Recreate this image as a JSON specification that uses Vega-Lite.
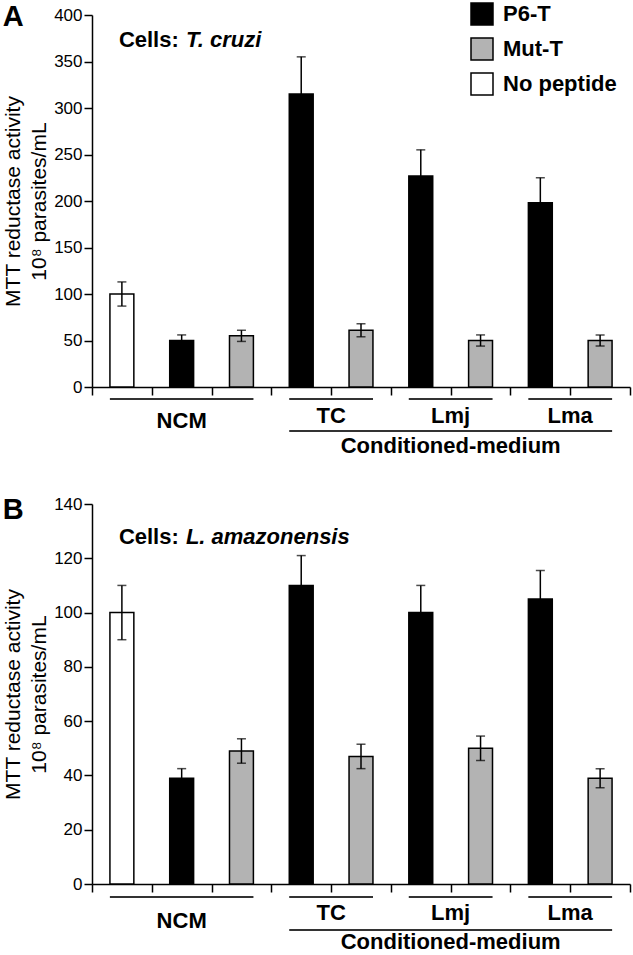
{
  "$schema": "https://vega.github.io/schema/vega-lite/v6.json",
  "padding": {"left": 2, "top": 2, "right": 1, "bottom": 0},
  "background": "white",
  "spacing": 38,
  "config": {
    "view": {"stroke": null},
    "font": "Liberation Sans",
    "axis": {"grid": false, "domainColor": "black", "domainWidth": 1.5, "tickColor": "black", "tickWidth": 1.5, "tickSize": 8, "labelColor": "black", "labelFont": "Liberation Sans", "labelFontSize": 17, "labelPadding": 2, "titleColor": "black", "titleFont": "Liberation Sans", "titleFontSize": 21, "titleFontWeight": "normal"},
    "title": {"font": "Liberation Sans", "fontSize": 29, "fontWeight": "bold", "color": "black", "anchor": "start", "frame": "bounds", "offset": -30}
  },
  "resolve": {"legend": {"fill": "independent"}},
  "datasets": {
    "a": [
      {"slot": "NCM|No peptide", "medium": "NCM", "peptide": "No peptide", "value": 100, "low": 87, "high": 113},
      {"slot": "NCM|P6-T", "medium": "NCM", "peptide": "P6-T", "value": 50, "low": 44, "high": 56},
      {"slot": "NCM|Mut-T", "medium": "NCM", "peptide": "Mut-T", "value": 55, "low": 49, "high": 61},
      {"slot": "TC|P6-T", "medium": "TC", "peptide": "P6-T", "value": 315, "low": 275, "high": 355},
      {"slot": "TC|Mut-T", "medium": "TC", "peptide": "Mut-T", "value": 61, "low": 54, "high": 68},
      {"slot": "Lmj|P6-T", "medium": "Lmj", "peptide": "P6-T", "value": 227, "low": 199, "high": 255},
      {"slot": "Lmj|Mut-T", "medium": "Lmj", "peptide": "Mut-T", "value": 50, "low": 44, "high": 56},
      {"slot": "Lma|P6-T", "medium": "Lma", "peptide": "P6-T", "value": 198, "low": 171, "high": 225},
      {"slot": "Lma|Mut-T", "medium": "Lma", "peptide": "Mut-T", "value": 50, "low": 44, "high": 56}
    ],
    "b": [
      {"slot": "NCM|No peptide", "medium": "NCM", "peptide": "No peptide", "value": 100, "low": 90, "high": 110},
      {"slot": "NCM|P6-T", "medium": "NCM", "peptide": "P6-T", "value": 39, "low": 35.5, "high": 42.5},
      {"slot": "NCM|Mut-T", "medium": "NCM", "peptide": "Mut-T", "value": 49, "low": 44.5, "high": 53.5},
      {"slot": "TC|P6-T", "medium": "TC", "peptide": "P6-T", "value": 110, "low": 99, "high": 121},
      {"slot": "TC|Mut-T", "medium": "TC", "peptide": "Mut-T", "value": 47, "low": 42.5, "high": 51.5},
      {"slot": "Lmj|P6-T", "medium": "Lmj", "peptide": "P6-T", "value": 100, "low": 90, "high": 110},
      {"slot": "Lmj|Mut-T", "medium": "Lmj", "peptide": "Mut-T", "value": 50, "low": 45.5, "high": 54.5},
      {"slot": "Lma|P6-T", "medium": "Lma", "peptide": "P6-T", "value": 105, "low": 94.5, "high": 115.5},
      {"slot": "Lma|Mut-T", "medium": "Lma", "peptide": "Mut-T", "value": 39, "low": 35.5, "high": 42.5}
    ],
    "cellsA": [{"cells": "Cells:", "species": "T. cruzi", "slot": "NCM|No peptide", "y": 373}],
    "cellsB": [{"cells": "Cells:", "species": "L. amazonensis", "slot": "NCM|No peptide", "y": 128}],
    "groups": [
      {"label": "NCM", "level": 1, "first": "NCM|No peptide", "last": "NCM|Mut-T", "anchor": "NCM|P6-T"},
      {"label": "TC", "level": 1, "first": "TC|P6-T", "last": "TC|Mut-T", "anchor": "TC|P6-T"},
      {"label": "Lmj", "level": 1, "first": "Lmj|P6-T", "last": "Lmj|Mut-T", "anchor": "Lmj|P6-T"},
      {"label": "Lma", "level": 1, "first": "Lma|P6-T", "last": "Lma|Mut-T", "anchor": "Lma|P6-T"},
      {"label": "Conditioned-medium", "level": 2, "first": "TC|P6-T", "last": "Lma|Mut-T", "anchor": "Lmj|P6-T"}
    ]
  },
  "vconcat": [
    {
      "width": 538,
      "height": 372,
      "title": {"text": "A"},
      "layer": [
        {
          "data": {"name": "a"},
          "mark": {"type": "bar", "width": {"band": 0.4}, "stroke": "black", "strokeWidth": 1.5},
          "encoding": {
            "x": {"field": "slot", "type": "nominal", "scale": {"domain": ["NCM|No peptide", "NCM|P6-T", "NCM|Mut-T", "TC|P6-T", "TC|Mut-T", "Lmj|P6-T", "Lmj|Mut-T", "Lma|P6-T", "Lma|Mut-T"], "paddingInner": 0, "paddingOuter": 0}, "axis": {"title": null, "labels": false, "tickBand": "extent"}},
            "y": {"field": "value", "type": "quantitative", "scale": {"domain": [0, 400], "nice": false}, "axis": {"values": [0, 50, 100, 150, 200, 250, 300, 350, 400], "title": ["MTT reductase activity", "10⁸ parasites/mL"], "titleLineHeight": 26, "titlePadding": 4}},
            "fill": {"field": "peptide", "type": "nominal", "scale": {"domain": ["P6-T", "Mut-T", "No peptide"], "range": ["#000000", "#b3b3b3", "#ffffff"]}, "legend": {"orient": "none", "legendX": 378, "legendY": -13, "title": null, "symbolType": "square", "symbolSize": 484, "symbolStrokeColor": "black", "symbolStrokeWidth": 1.5, "symbolOpacity": 1, "labelFont": "Liberation Sans", "labelFontSize": 22, "labelFontWeight": "bold", "labelColor": "black", "labelOffset": 9, "rowPadding": 7, "padding": 0}}
          }
        },
        {
          "data": {"name": "a"},
          "mark": {"type": "rule", "color": "black", "strokeWidth": 1.5},
          "encoding": {"x": {"field": "slot", "type": "nominal"}, "y": {"field": "low", "type": "quantitative"}, "y2": {"field": "high"}}
        },
        {
          "data": {"name": "a"},
          "mark": {"type": "tick", "color": "black", "size": 9, "thickness": 1.5},
          "encoding": {"x": {"field": "slot", "type": "nominal"}, "y": {"field": "low", "type": "quantitative"}}
        },
        {
          "data": {"name": "a"},
          "mark": {"type": "tick", "color": "black", "size": 9, "thickness": 1.5},
          "encoding": {"x": {"field": "slot", "type": "nominal"}, "y": {"field": "high", "type": "quantitative"}}
        },
        {
          "data": {"name": "cellsA"},
          "mark": {"type": "text", "font": "Liberation Sans", "fontSize": 22, "fontWeight": "bold", "align": "left", "baseline": "middle", "dx": -3, "color": "black"},
          "encoding": {"x": {"field": "slot", "type": "nominal"}, "y": {"field": "y", "type": "quantitative"}, "text": {"field": "cells"}}
        },
        {
          "data": {"name": "cellsA"},
          "mark": {"type": "text", "font": "Liberation Sans", "fontSize": 22, "fontWeight": "bold", "fontStyle": "italic", "align": "left", "baseline": "middle", "dx": 64, "color": "black"},
          "encoding": {"x": {"field": "slot", "type": "nominal"}, "y": {"field": "y", "type": "quantitative"}, "text": {"field": "species"}}
        },
        {
          "data": {"name": "groups"},
          "transform": [{"filter": "datum.level == 1"}],
          "mark": {"type": "rule", "color": "#333333", "strokeWidth": 2, "xOffset": -12, "x2Offset": 12, "yOffset": 12},
          "encoding": {"x": {"field": "first", "type": "nominal"}, "x2": {"field": "last"}, "y": {"datum": 0}}
        },
        {
          "data": {"name": "groups"},
          "transform": [{"filter": "datum.level == 2"}],
          "mark": {"type": "rule", "color": "#333333", "strokeWidth": 2, "xOffset": -12, "x2Offset": 12, "yOffset": 44},
          "encoding": {"x": {"field": "first", "type": "nominal"}, "x2": {"field": "last"}, "y": {"datum": 0}}
        },
        {
          "data": {"name": "groups"},
          "transform": [{"filter": "datum.label == 'NCM'"}],
          "mark": {"type": "text", "font": "Liberation Sans", "fontSize": 22, "fontWeight": "bold", "baseline": "alphabetic", "dy": 41, "color": "black"},
          "encoding": {"x": {"field": "anchor", "type": "nominal"}, "y": {"datum": 0}, "text": {"field": "label"}}
        },
        {
          "data": {"name": "groups"},
          "transform": [{"filter": "datum.label != 'NCM'"}, {"filter": "datum.level == 1"}],
          "mark": {"type": "text", "font": "Liberation Sans", "fontSize": 22, "fontWeight": "bold", "baseline": "alphabetic", "dy": 36, "color": "black"},
          "encoding": {"x": {"field": "anchor", "type": "nominal", "bandPosition": 1}, "y": {"datum": 0}, "text": {"field": "label"}}
        },
        {
          "data": {"name": "groups"},
          "transform": [{"filter": "datum.level == 2"}],
          "mark": {"type": "text", "font": "Liberation Sans", "fontSize": 22, "fontWeight": "bold", "baseline": "alphabetic", "dy": 66, "color": "black"},
          "encoding": {"x": {"field": "anchor", "type": "nominal", "bandPosition": 1}, "y": {"datum": 0}, "text": {"field": "label"}}
        }
      ]
    },
    {
      "width": 538,
      "height": 380,
      "title": {"text": "B"},
      "layer": [
        {
          "data": {"name": "b"},
          "mark": {"type": "bar", "width": {"band": 0.4}, "stroke": "black", "strokeWidth": 1.5},
          "encoding": {
            "x": {"field": "slot", "type": "nominal", "scale": {"domain": ["NCM|No peptide", "NCM|P6-T", "NCM|Mut-T", "TC|P6-T", "TC|Mut-T", "Lmj|P6-T", "Lmj|Mut-T", "Lma|P6-T", "Lma|Mut-T"], "paddingInner": 0, "paddingOuter": 0}, "axis": {"title": null, "labels": false, "tickBand": "extent"}},
            "y": {"field": "value", "type": "quantitative", "scale": {"domain": [0, 140], "nice": false}, "axis": {"values": [0, 20, 40, 60, 80, 100, 120, 140], "title": ["MTT reductase activity", "10⁸ parasites/mL"], "titleLineHeight": 26, "titlePadding": 4}},
            "fill": {"field": "peptide", "type": "nominal", "scale": {"domain": ["P6-T", "Mut-T", "No peptide"], "range": ["#000000", "#b3b3b3", "#ffffff"]}, "legend": null}
          }
        },
        {
          "data": {"name": "b"},
          "mark": {"type": "rule", "color": "black", "strokeWidth": 1.5},
          "encoding": {"x": {"field": "slot", "type": "nominal"}, "y": {"field": "low", "type": "quantitative"}, "y2": {"field": "high"}}
        },
        {
          "data": {"name": "b"},
          "mark": {"type": "tick", "color": "black", "size": 9, "thickness": 1.5},
          "encoding": {"x": {"field": "slot", "type": "nominal"}, "y": {"field": "low", "type": "quantitative"}}
        },
        {
          "data": {"name": "b"},
          "mark": {"type": "tick", "color": "black", "size": 9, "thickness": 1.5},
          "encoding": {"x": {"field": "slot", "type": "nominal"}, "y": {"field": "high", "type": "quantitative"}}
        },
        {
          "data": {"name": "cellsB"},
          "mark": {"type": "text", "font": "Liberation Sans", "fontSize": 22, "fontWeight": "bold", "align": "left", "baseline": "middle", "dx": -3, "color": "black"},
          "encoding": {"x": {"field": "slot", "type": "nominal"}, "y": {"field": "y", "type": "quantitative"}, "text": {"field": "cells"}}
        },
        {
          "data": {"name": "cellsB"},
          "mark": {"type": "text", "font": "Liberation Sans", "fontSize": 22, "fontWeight": "bold", "fontStyle": "italic", "align": "left", "baseline": "middle", "dx": 64, "color": "black"},
          "encoding": {"x": {"field": "slot", "type": "nominal"}, "y": {"field": "y", "type": "quantitative"}, "text": {"field": "species"}}
        },
        {
          "data": {"name": "groups"},
          "transform": [{"filter": "datum.level == 1"}],
          "mark": {"type": "rule", "color": "#333333", "strokeWidth": 2, "xOffset": -12, "x2Offset": 12, "yOffset": 13},
          "encoding": {"x": {"field": "first", "type": "nominal"}, "x2": {"field": "last"}, "y": {"datum": 0}}
        },
        {
          "data": {"name": "groups"},
          "transform": [{"filter": "datum.level == 2"}],
          "mark": {"type": "rule", "color": "#333333", "strokeWidth": 2, "xOffset": -12, "x2Offset": 12, "yOffset": 46},
          "encoding": {"x": {"field": "first", "type": "nominal"}, "x2": {"field": "last"}, "y": {"datum": 0}}
        },
        {
          "data": {"name": "groups"},
          "transform": [{"filter": "datum.label == 'NCM'"}],
          "mark": {"type": "text", "font": "Liberation Sans", "fontSize": 22, "fontWeight": "bold", "baseline": "alphabetic", "dy": 44, "color": "black"},
          "encoding": {"x": {"field": "anchor", "type": "nominal"}, "y": {"datum": 0}, "text": {"field": "label"}}
        },
        {
          "data": {"name": "groups"},
          "transform": [{"filter": "datum.label != 'NCM'"}, {"filter": "datum.level == 1"}],
          "mark": {"type": "text", "font": "Liberation Sans", "fontSize": 22, "fontWeight": "bold", "baseline": "alphabetic", "dy": 36, "color": "black"},
          "encoding": {"x": {"field": "anchor", "type": "nominal", "bandPosition": 1}, "y": {"datum": 0}, "text": {"field": "label"}}
        },
        {
          "data": {"name": "groups"},
          "transform": [{"filter": "datum.level == 2"}],
          "mark": {"type": "text", "font": "Liberation Sans", "fontSize": 22, "fontWeight": "bold", "baseline": "alphabetic", "dy": 65, "color": "black"},
          "encoding": {"x": {"field": "anchor", "type": "nominal", "bandPosition": 1}, "y": {"datum": 0}, "text": {"field": "label"}}
        }
      ]
    }
  ]
}
